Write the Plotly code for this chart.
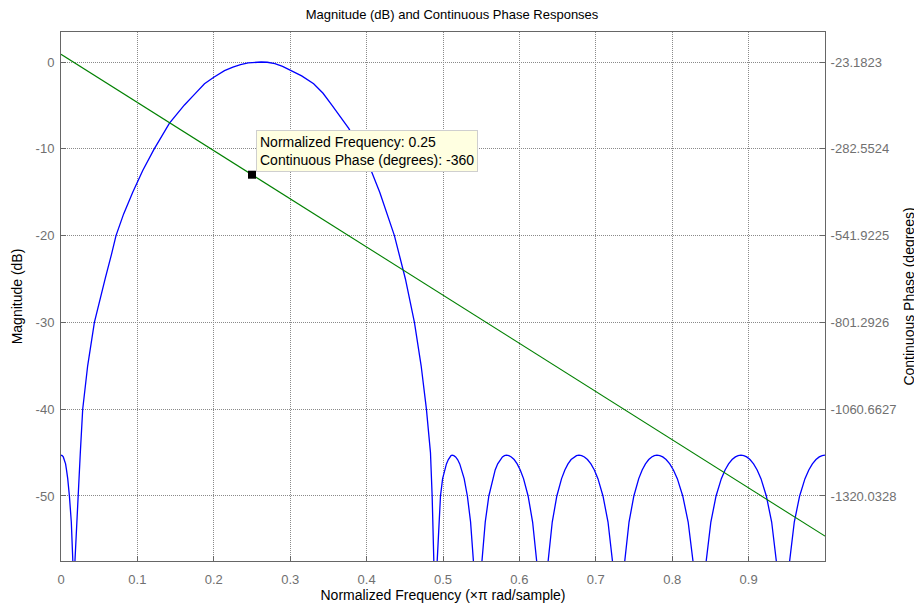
import plotly.graph_objects as go

# ---- data ----
mag_freq = [
    # left stop-band tail
    0.0, 0.0015, 0.003, 0.0045, 0.006, 0.0072, 0.0088, 0.011, 0.0135, 0.0155, 0.017,
    # main lobe
    0.0183, 0.0219, 0.0253, 0.0284, 0.0349, 0.0437, 0.050, 0.058, 0.066, 0.072, 0.082, 0.0939, 0.107,
    0.1215, 0.142, 0.1616, 0.175, 0.1878, 0.200, 0.214, 0.225, 0.235, 0.245, 0.255, 0.262,
    0.270, 0.280, 0.290, 0.302, 0.315, 0.3307, 0.343, 0.3548, 0.365, 0.3766, 0.392, 0.405,
    0.4172, 0.427, 0.4364, 0.4508, 0.4626, 0.4714, 0.4783, 0.4836, 0.4858, 0.488, 0.490,
    # side lobe 1
    0.4924, 0.4945, 0.4967, 0.4995, 0.502, 0.5045, 0.507, 0.509, 0.5105, 0.512,
    0.5142, 0.5165, 0.5191, 0.5219, 0.5247, 0.5277, 0.5319, 0.5361, 0.5398, 0.545,
    # side lobe 2
    0.551, 0.5553, 0.560, 0.5649, 0.5683, 0.5716, 0.5749, 0.5778, 0.5804, 0.583,
    0.5862, 0.5894, 0.5931, 0.5971, 0.6011, 0.6054, 0.6114, 0.6173, 0.6226, 0.630,
    # side lobe 3
    0.6376, 0.643, 0.649, 0.6552, 0.6595, 0.6636, 0.6677, 0.6715, 0.6747, 0.678,
    0.6815, 0.6851, 0.6891, 0.6936, 0.6981, 0.7028, 0.7094, 0.716, 0.7218, 0.730,
    # side lobe 4
    0.7379, 0.7435, 0.7498, 0.7562, 0.7607, 0.765, 0.7693, 0.7732, 0.7766, 0.780,
    0.7838, 0.7876, 0.792, 0.7968, 0.8016, 0.8067, 0.8138, 0.8209, 0.8272, 0.836,
    # side lobe 5
    0.8445, 0.8506, 0.8574, 0.8643, 0.8692, 0.8738, 0.8784, 0.8827, 0.8863, 0.890,
    0.8937, 0.8975, 0.9018, 0.9065, 0.9112, 0.9162, 0.9232, 0.9302, 0.9363, 0.945,
    # side lobe 6 (up to the right edge)
    0.9537, 0.9598, 0.9668, 0.9738, 0.9788, 0.9835, 0.9882, 0.9925, 0.9963, 1.0,
]
mag_db = [
    -45.3, -45.35, -45.5, -45.8, -46.3, -47.0, -48.0, -50.0, -53.0, -57.5, -90.0,
    -57.4, -50.0, -45.0, -40.0, -35.0, -30.0, -27.6, -24.9, -22.2, -20.0, -17.5, -15.0, -12.5,
    -10.1, -7.05, -4.95, -3.7, -2.5, -1.75, -1.0, -0.6, -0.3, -0.1, -0.01, 0.0,
    -0.03, -0.2, -0.5, -1.0, -1.6, -2.5, -3.6, -5.0, -6.2, -7.64, -10.0, -12.3,
    -15.0, -17.5, -20.0, -25.0, -30.0, -35.0, -40.0, -45.0, -50.0, -57.5, -90.0,
    -57.5, -53.0, -50.0, -48.0, -47.0, -46.3, -45.8, -45.5, -45.35, -45.3,
    -45.35, -45.5, -45.8, -46.3, -47.0, -48.0, -50.0, -53.0, -57.5, -90.0,
    -57.5, -53.0, -50.0, -48.0, -47.0, -46.3, -45.8, -45.5, -45.35, -45.3,
    -45.35, -45.5, -45.8, -46.3, -47.0, -48.0, -50.0, -53.0, -57.5, -90.0,
    -57.5, -53.0, -50.0, -48.0, -47.0, -46.3, -45.8, -45.5, -45.35, -45.3,
    -45.35, -45.5, -45.8, -46.3, -47.0, -48.0, -50.0, -53.0, -57.5, -90.0,
    -57.5, -53.0, -50.0, -48.0, -47.0, -46.3, -45.8, -45.5, -45.35, -45.3,
    -45.35, -45.5, -45.8, -46.3, -47.0, -48.0, -50.0, -53.0, -57.5, -90.0,
    -57.5, -53.0, -50.0, -48.0, -47.0, -46.3, -45.8, -45.5, -45.35, -45.3,
    -45.35, -45.5, -45.8, -46.3, -47.0, -48.0, -50.0, -53.0, -57.5, -90.0,
    -57.5, -53.0, -50.0, -48.0, -47.0, -46.3, -45.8, -45.5, -45.35, -45.3,
]

phase_freq = [0.0, 1.0]
phase_deg = [0.0, -1440.0]

x_ticks = [0, 0.1, 0.2, 0.3, 0.4, 0.5, 0.6, 0.7, 0.8, 0.9]
x_ticklabels = ["0", "0.1", "0.2", "0.3", "0.4", "0.5", "0.6", "0.7", "0.8", "0.9"]
mag_ticks = [-50, -40, -30, -20, -10, 0]
mag_ticklabels = ["-50", "-40", "-30", "-20", "-10", "0"]
phase_ticks = [-23.1823, -282.5524, -541.9225, -801.2926, -1060.6627, -1320.0328]
phase_ticklabels = ["-23.1823", "-282.5524", "-541.9225", "-801.2926", "-1060.6627", "-1320.0328"]

tip_freq = 0.25
tip_phase = -360

# ---- figure ----
FONT = "Liberation Sans, Arial, sans-serif"
AX = "#666666"
TICKC = "#707070"
GRID = "#8a8a8a"

fig = go.Figure()
fig.add_trace(go.Scatter(x=mag_freq, y=mag_db, mode="lines",
                         line=dict(color="#0000ff", width=1.3), yaxis="y",
                         showlegend=False, hoverinfo="skip"))
fig.add_trace(go.Scatter(x=phase_freq, y=phase_deg, mode="lines",
                         line=dict(color="#008000", width=1.1), yaxis="y2",
                         showlegend=False, hoverinfo="skip"))
fig.add_trace(go.Scatter(x=[tip_freq], y=[tip_phase], mode="markers",
                         marker=dict(symbol="square", size=8, color="black"),
                         yaxis="y2", showlegend=False, hoverinfo="skip"))

fig.add_annotation(x=tip_freq, y=tip_phase, xref="x", yref="y2",
                   text="Normalized Frequency: 0.25<br>Continuous Phase (degrees): -360",
                   showarrow=False, xanchor="left", yanchor="bottom",
                   xshift=4, yshift=3, align="left",
                   font=dict(family=FONT, size=14, color="black"),
                   bgcolor="#ffffe1", bordercolor="#cfcfcf", borderwidth=1, borderpad=3)

mag_lo, mag_hi = -57.49, 3.456
# right axis shares the grid lines: phase = -23.1823 + 25.93701*dB
ph_lo = -23.1823 + 25.93701 * mag_lo
ph_hi = -23.1823 + 25.93701 * mag_hi

# the page body has an 8px margin, so the figure is 8px smaller on each side
fig.update_layout(
    width=914, height=597,
    margin=dict(l=53, r=97, t=24, b=44),
    paper_bgcolor="white", plot_bgcolor="white",
    font=dict(family=FONT, size=13, color="black"),
    title=dict(text="Magnitude (dB) and Continuous Phase Responses",
               x=(452 - 8) / 914, xref="container", xanchor="center",
               y=1 - 6 / 597, yref="container", yanchor="middle",
               font=dict(family=FONT, size=13, color="black")),
    xaxis=dict(range=[0, 1], tickvals=x_ticks, ticktext=x_ticklabels,
               showgrid=True, gridcolor=GRID, griddash="1px,1px", gridwidth=1,
               zeroline=False, showline=True, linecolor=AX, linewidth=1, mirror=True,
               ticks="inside", ticklen=5, tickcolor=AX, ticklabelstandoff=6,
               tickfont=dict(family=FONT, size=13, color=TICKC),
               title=dict(text="Normalized Frequency (\u00d7\u03c0 rad/sample)", standoff=3,
                          font=dict(family=FONT, size=14, color="black")),
               automargin=False),
    yaxis=dict(range=[mag_lo, mag_hi], tickvals=mag_ticks, ticktext=mag_ticklabels,
               showgrid=True, gridcolor=GRID, griddash="1px,1px", gridwidth=1,
               zeroline=False, showline=True, linecolor=AX, linewidth=1,
               ticks="inside", ticklen=5, tickcolor=AX, ticklabelstandoff=3,
               tickfont=dict(family=FONT, size=13, color=TICKC),
               title=dict(text="Magnitude (dB)", standoff=9,
                          font=dict(family=FONT, size=14, color="black")),
               automargin=False),
    yaxis2=dict(range=[ph_lo, ph_hi], overlaying="y", side="right",
                tickvals=phase_ticks, ticktext=phase_ticklabels,
                showgrid=False, zeroline=False, showline=True, linecolor=AX, linewidth=1,
                ticks="inside", ticklen=5, tickcolor=AX, ticklabelstandoff=2,
                tickfont=dict(family=FONT, size=13, color=TICKC),
                title=dict(text="Continuous Phase (degrees)", standoff=8,
                           font=dict(family=FONT, size=14, color="black")),
                automargin=False),
)

fig.write_html("out.html")
